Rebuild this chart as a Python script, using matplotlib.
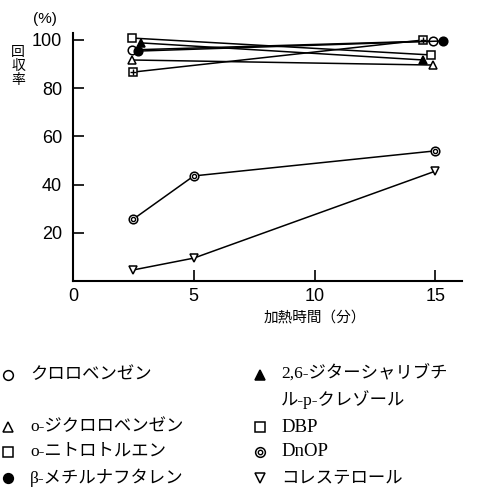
import matplotlib
matplotlib.use("Agg")
import matplotlib.pyplot as plt
from matplotlib.lines import Line2D

plt.rcParams['font.family'] = ['Liberation Sans', 'Noto Sans CJK JP']

# 回収率 (%) vs 加熱時間 (分)
chloro_x = [2.45, 14.9]
chloro_y = [95.9, 99.6]
dichloro_x = [2.45, 14.9]
dichloro_y = [91.7, 89.6]
nitro_x = [2.5, 14.5]
nitro_y = [86.7, 100.0]
methylnaph_x = [2.7, 15.3]
methylnaph_y = [95.4, 99.6]
bht_x = [2.8, 14.5]
bht_y = [98.8, 91.7]
dbp_x = [2.45, 14.8]
dbp_y = [100.8, 93.8]
dnop_x = [2.5, 5.0, 15.0]
dnop_y = [25.7, 43.6, 54.0]
chol_x = [2.5, 5.0, 15.0]
chol_y = [4.6, 9.5, 45.6]

x_ticks = [0, 5, 10, 15]
y_ticks = [20, 40, 60, 80, 100]

legend_left = ["クロロベンゼン", "o-ジクロロベンゼン", "o-ニトロトルエン", "β-メチルナフタレン"]
legend_right = ["2,6-ジターシャリブチ\nル-p-クレゾール", "DBP", "DnOP", "コレステロール"]

W, H = 482, 487
fig = plt.figure(figsize=(W / 100, H / 100), dpi=100)
ax = fig.add_axes([73 / W, 1 - 281 / H, 389 / W, 248 / H])
ax.set_xlim(0, 16.1)
ax.set_ylim(0, 102.9)

lw = 1.1
ms = 6.2
k = 'black'
common = dict(color=k, lw=lw, markersize=ms, markeredgewidth=1.1, clip_on=False)

ax.plot(chloro_x, chloro_y, marker='o', mfc='white', **common)
ax.plot(dichloro_x, dichloro_y, marker='^', mfc='white', **common)
ax.plot(nitro_x, nitro_y, marker='s', mfc='white', **common)
ax.plot(nitro_x, nitro_y, ls='none', marker='+', color=k, markersize=5, markeredgewidth=1.0)
ax.plot(methylnaph_x, methylnaph_y, marker='o', mfc=k, **common)
ax.plot(bht_x, bht_y, marker='^', mfc=k, **common)
ax.plot(dbp_x, dbp_y, marker='s', mfc='white', **common)
ax.plot(dnop_x, dnop_y, marker='o', mfc='white', **common)
ax.plot(dnop_x, dnop_y, ls='none', marker='o', mfc='white', mec=k, markersize=3.0, markeredgewidth=1.0)
ax.plot(chol_x, chol_y, marker='v', mfc='white', **common)

for side in ('top', 'right'):
    ax.spines[side].set_visible(False)
for side in ('left', 'bottom'):
    ax.spines[side].set_linewidth(1.5)

ax.set_xticks(x_ticks)
ax.set_yticks(y_ticks)
ax.tick_params(direction='in', length=8, width=1.2, labelsize=13)
ax.tick_params(axis='y', pad=8)
ax.tick_params(axis='x', pad=5)

fig.text(45 / W, 1 - 19 / H, "(%)", ha='center', va='center', fontsize=11)
fig.text(18 / W, 1 - 66 / H, "回\n収\n率", ha='center', va='center', fontsize=10,
         linespacing=1.0, family=['Noto Sans CJK JP'])
fig.text(366 / W, 1 - 318 / H, "加熱時間（分）", ha='right', va='center', fontsize=10.5,
         family=['Noto Sans CJK JP'])

# legend block beneath the plot
lt_family = ['Liberation Serif', 'Noto Sans CJK JP']
rows = [375, 427, 452, 478]
left_markers = [dict(marker='o', mfc='white'), dict(marker='^', mfc='white'),
                dict(marker='s', mfc='white'), dict(marker='o', mfc=k)]
right_markers = [dict(marker='^', mfc=k), dict(marker='s', mfc='white'),
                 dict(marker='o', mfc='white'), dict(marker='v', mfc='white')]

for y, mk, lab in zip(rows, left_markers, legend_left):
    fig.add_artist(Line2D([8 / W], [1 - y / H], transform=fig.transFigure, ls='none',
                          color=k, markersize=7, markeredgewidth=1.1, **mk))
    fig.text(30 / W, 1 - y / H, lab, ha='left', va='center', fontsize=12.5, family=lt_family)

for i, (y, mk, lab) in enumerate(zip(rows, right_markers, legend_right)):
    fig.add_artist(Line2D([260 / W], [1 - y / H], transform=fig.transFigure, ls='none',
                          color=k, markersize=7, markeredgewidth=1.1, **mk))
    if i == 2:
        fig.add_artist(Line2D([260 / W], [1 - y / H], transform=fig.transFigure, ls='none',
                              marker='o', mfc='white', mec=k, markersize=3.2, markeredgewidth=1.0))
    va = 'top' if i == 0 else 'center'
    yy = (y - 10) if i == 0 else y
    fig.text(281 / W, 1 - yy / H, lab, ha='left', va=va, fontsize=12.5 if i in (0, 3) else 13.5,
             family=lt_family, linespacing=1.5)

fig.savefig("out.png", dpi=100)
